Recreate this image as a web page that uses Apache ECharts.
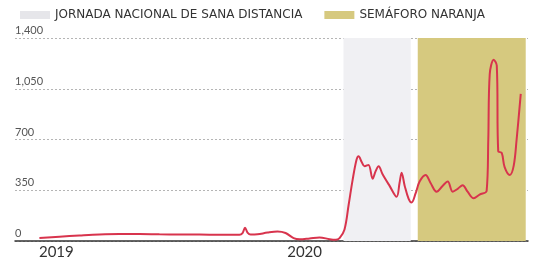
<!DOCTYPE html>
<html>
<head>
<meta charset="utf-8">
<script src="https://cdn.jsdelivr.net/npm/echarts@6/dist/echarts.min.js"></script>
<style>
  html, body { margin: 0; padding: 0; background: #fff; }
  #container { width: 535px; height: 262px; }
</style>
</head>
<body>
<div id="container"></div>
<script>
var dom = document.getElementById("container");
var myChart = echarts.init(dom);

// x = months counted from january 2019
var months = [-0.82, 0.15, 1.11, 2.08, 3.05, 4.02, 4.98, 5.95, 6.92, 7.89, 8.85,
  9.0, 9.12, 9.24, 9.39, 9.72, 10.21, 10.69, 11.08, 11.47, 11.76, 12.24, 12.72,
  13.21, 13.5, 13.69, 13.93, 14.13, 14.32, 14.51, 14.61, 14.76, 14.9, 15.09, 15.29,
  15.43, 15.58, 15.77, 16.11, 16.45, 16.59, 16.69, 16.84, 17.03, 17.17, 17.37, 17.56,
  17.85, 18.09, 18.38, 18.67, 18.92, 19.16, 19.4, 19.64, 19.88, 20.17, 20.46, 20.8,
  20.88, 20.95, 21.14, 21.29, 21.36, 21.53, 21.67, 21.92, 22.11, 22.25, 22.45];
var values = [20, 30, 38, 45, 48, 48, 46, 45, 44, 43, 43,
  55, 92, 58, 44, 46, 58, 65, 55, 20, 12, 18, 25,
  12, 8, 20, 80, 250, 420, 560, 585, 545, 515, 525, 430,
  480, 515, 460, 380, 305, 400, 470, 380, 290, 265, 330, 410,
  455, 400, 340, 380, 410, 340, 360, 385, 340, 295, 320, 345,
  700, 1150, 1250, 1210, 620, 607, 510, 455, 520, 700, 1015];

var yearTicks = [0, 12];
var yearLabels = ["2019", "2020"];
var sanaDistancia = [13.88, 17.13];
var semaforoNaranja = [17.47, 22.69];

var lineData = months.map(function (m, i) { return [m, values[i]]; });

var option = {
  animation: false,
  grid: { left: 15, right: 7, top: 38, bottom: 21 },
  legend: {
    left: 15,
    top: 4,
    itemWidth: 30,
    itemHeight: 8,
    itemGap: 22,
    icon: 'rect',
    textStyle: { fontFamily: 'DejaVu Sans', fontSize: 12, color: '#333' },
    data: ['JORNADA NACIONAL DE SANA DISTANCIA', 'SEMÁFORO NARANJA']
  },
  xAxis: {
    type: 'value',
    min: -2,
    max: 22.8,
    splitLine: { show: false },
    axisTick: { show: false },
    axisLine: { show: true, onZero: false, lineStyle: { color: '#333', width: 1.5 } },
    axisLabel: {
      customValues: yearTicks,
      margin: 4,
      fontFamily: 'Lato',
      fontSize: 15,
      color: '#333',
      formatter: function (v) { return yearLabels[yearTicks.indexOf(v)] || ''; }
    }
  },
  yAxis: {
    type: 'value',
    min: 0,
    max: 1400,
    interval: 350,
    axisLine: { show: false },
    axisTick: { show: false },
    axisLabel: {
      inside: true,
      margin: 0,
      verticalAlign: 'bottom',
      padding: [0, 0, 2, 0],
      fontFamily: 'Lato',
      fontSize: 11,
      color: '#555',
      formatter: function (v) { return v.toLocaleString('en-US'); }
    },
    splitLine: { lineStyle: { color: '#b5b5b5', type: [2, 2], width: 1 } }
  },
  series: [
    {
      name: 'JORNADA NACIONAL DE SANA DISTANCIA',
      type: 'line',
      data: [],
      itemStyle: { color: '#e6e6ea' },
      markArea: {
        silent: true,
        itemStyle: { color: '#f0f0f3' },
        data: [[{ xAxis: sanaDistancia[0] }, { xAxis: sanaDistancia[1] }]]
      }
    },
    {
      name: 'SEMÁFORO NARANJA',
      type: 'line',
      data: [],
      itemStyle: { color: '#d6c97f' },
      markArea: {
        silent: true,
        itemStyle: { color: '#d6c97f' },
        data: [[{ xAxis: semaforoNaranja[0] }, { xAxis: semaforoNaranja[1] }]]
      }
    },
    {
      name: 'casos',
      type: 'line',
      data: lineData,
      smooth: 0.35,
      showSymbol: false,
      z: 5,
      lineStyle: { color: '#d8344d', width: 2 }
    }
  ]
};

myChart.setOption(option);
</script>
</body>
</html>
